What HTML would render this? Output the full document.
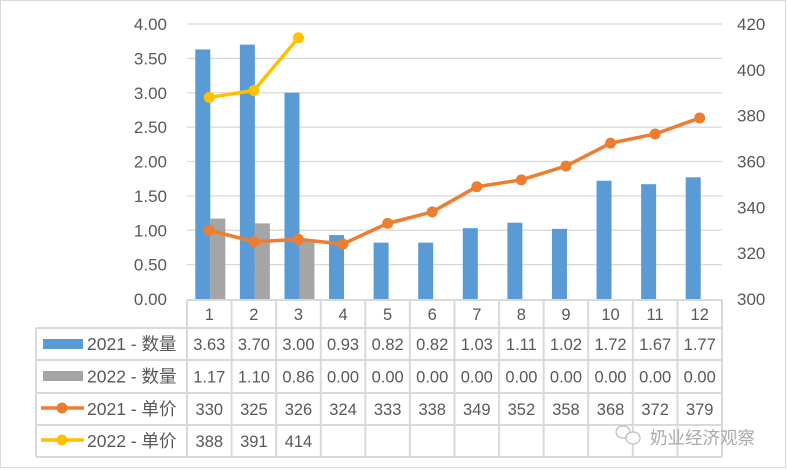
<!DOCTYPE html>
<html><head><meta charset="utf-8"><style>
body{margin:0;background:#fff;}
svg{display:block;font-family:"Liberation Sans","Noto Sans CJK SC",sans-serif;}
</style></head><body>
<svg id="c" width="788" height="470">
<rect x="0.5" y="0.5" width="785" height="467" fill="#fff" stroke="#d9d9d9"/>
<g id="grid"></g><g id="bars"></g><g id="lines"></g><g id="axes"></g><g id="table"></g>
<g fill="none" stroke="#bbb" stroke-width="1.2">
<ellipse cx="623" cy="432" rx="7" ry="6"/><ellipse cx="633" cy="438" rx="7" ry="6" fill="#fff"/>
</g>
<text x="650" y="444" font-size="17.5" fill="#aaa">奶业经济观察</text>
</svg>
<script>
const categories=['1','2','3','4','5','6','7','8','9','10','11','12'];
const qty2021=[3.63,3.70,3.00,0.93,0.82,0.82,1.03,1.11,1.02,1.72,1.67,1.77];
const qty2022=[1.17,1.10,0.86,0.00,0.00,0.00,0.00,0.00,0.00,0.00,0.00,0.00];
const price2021=[330,325,326,324,333,338,349,352,358,368,372,379];
const price2022=[388,391,414];
const price2021Labels=['330','325','326','324','333','338','349','352','358','368','372','379'];
const price2022Labels=['388','391','414'];
const leftTicks=[0,0.5,1,1.5,2,2.5,3,3.5,4];
const rightTicks=[300,320,340,360,380,400,420];

const NS='http://www.w3.org/2000/svg';
const X0=187,X1=722,Y0=299,Y1=24;
const cw=(X1-X0)/categories.length;
const xc=i=>X0+cw*(i+0.5);
const yL=v=>Y0-(v/4)*(Y0-Y1);
const yR=v=>Y0-((v-300)/120)*(Y0-Y1);
function mk(p,t,a){const e=document.createElementNS(NS,t);for(const k in a)e.setAttribute(k,a[k]);document.getElementById(p).appendChild(e);return e;}
function tx(p,x,y,s,anchor,size){const e=mk(p,'text',{x:x,y:y,'text-anchor':anchor||'middle','font-size':size||16.5,fill:'#595959'});e.textContent=s;return e;}

leftTicks.forEach(v=>{
 if(v>0){const g=mk('grid','line',{x1:X0,x2:X1,y1:yL(v),y2:yL(v),stroke:'#d9d9d9','stroke-width':1.3});
 
 }
 const t=tx('axes',167,yL(v)+6,v.toFixed(2),'end',17);
 
 
});
rightTicks.forEach(v=>{
 const t=tx('axes',737,yR(v)+6,String(v),'start',17);
 
 
});
const bw=15;
qty2021.forEach((v,i)=>{
 const r=mk('bars','rect',{x:xc(i)-14,y:yL(v),width:bw,height:Y0-yL(v),fill:'#5b9bd5'});
 
 
});
qty2022.forEach((v,i)=>{
 if(v<=0)return;
 const r=mk('bars','rect',{x:xc(i)+1,y:yL(v),width:bw,height:Y0-yL(v),fill:'#a5a5a5'});
 
 
});
function line(data,color,name){
 const pts=data.map((v,i)=>xc(i)+','+yR(v)).join(' ');
 const l=mk('lines','polyline',{points:pts,fill:'none',stroke:color,'stroke-width':3.5,'stroke-linejoin':'round'});
 
 
 data.forEach((v,i)=>{const c=mk('lines','circle',{cx:xc(i),cy:yR(v),r:5.5,fill:color});
 
 });
}
line(price2021,'#ed7d31','price-2021');
line(price2022,'#ffc000','price-2022');

const rows=[300,328,360,393,425,457];
const TL=36,TR=722;
const bd={stroke:'#d9d9d9','stroke-width':2};
mk('table','line',Object.assign({x1:X0,x2:TR,y1:rows[0],y2:rows[0]},bd));
for(let r=1;r<rows.length;r++)mk('table','line',Object.assign({x1:TL,x2:TR,y1:rows[r],y2:rows[r]},bd));
mk('table','line',Object.assign({x1:TL,x2:TL,y1:rows[1],y2:rows[5]},bd));
for(let i=0;i<=categories.length;i++)mk('table','line',Object.assign({x1:X0+cw*i,x2:X0+cw*i,y1:rows[0],y2:rows[5]},bd));
const mid=r=>(rows[r]+rows[r+1])/2+6;
categories.forEach((c,i)=>{const t=tx('table',xc(i),mid(0),c);
 
 });
const rowVals=[qty2021.map(v=>v.toFixed(2)),qty2022.map(v=>v.toFixed(2)),price2021Labels,price2022Labels];
rowVals.forEach((vals,r)=>vals.forEach((s,i)=>{const t=tx('table',xc(i),mid(r+1),s);
 
 }));
mk('table','rect',{x:43,y:339,width:40,height:10,fill:'#5b9bd5'});
mk('table','rect',{x:43,y:371,width:40,height:10,fill:'#a5a5a5'});
mk('table','line',{x1:41,x2:84,y1:408,y2:408,stroke:'#ed7d31','stroke-width':3.5});
mk('table','circle',{cx:62,cy:408,r:5.5,fill:'#ed7d31'});
mk('table','line',{x1:41,x2:84,y1:440,y2:440,stroke:'#ffc000','stroke-width':3.5});
mk('table','circle',{cx:62,cy:440,r:5.5,fill:'#ffc000'});
['2021 - 数量','2022 - 数量','2021 -  单价','2022 -  单价'].forEach((s,r)=>{
 const t=tx('table',87,mid(r+1),s,'start',17.5);
 
 
});
</script>
</body></html>
